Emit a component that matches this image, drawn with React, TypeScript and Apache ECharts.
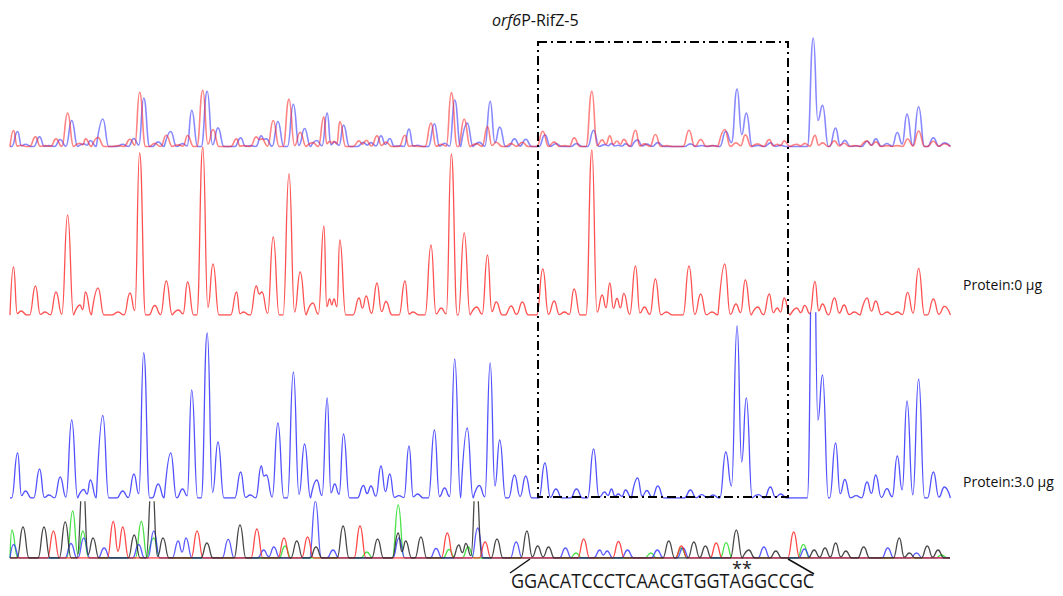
import React, { useEffect, useRef } from "react";
import * as echarts from "echarts";

// [scan position, peak height, optional trough height read between this peak and the next]
type Peak = [number, number, number?];

const TITLE_ITALIC = "orf6";
const TITLE_REST = "P-RifZ-5";
const LABEL_0 = "Protein:0 µg";
const LABEL_3 = "Protein:3.0 µg";
const SEQUENCE = "GGACATCCCTCAACGTGGTAGGCCGC";
const MARK = "**";

// Protein: 0 µg (red trace)
const RED_0UG: Peak[] = [
  [13.5, 48], [21, 4], [35.5, 29], [45, 3], [56, 23], [67.6, 100], [80, 10], [85.5, 23], [98, 27],
  [118, 3], [130, 22], [139.6, 162], [154.8, 9.5], [166.3, 34], [178.5, 5], [187.6, 33], [202.8, 168],
  [213, 51], [236.6, 23], [243.4, 3], [256.3, 29, 21], [262, 23], [273.2, 78], [289, 141], [300.2, 43],
  [312.7, 12], [323.9, 89], [329.6, 16], [334, 16], [339.8, 75], [359, 17], [366.1, 19], [377, 32],
  [386, 13.5], [405, 34], [413, 3], [431, 70], [441.2, 7], [451.3, 161], [464.2, 82], [476.7, 8],
  [487.5, 60], [496.3, 13], [511.1, 9], [522.3, 13], [542.8, 46], [554.2, 14], [564.5, 3], [574.1, 26],
  [591.9, 165], [602.2, 20], [609.8, 32], [617, 16.5], [623.8, 21.6], [635.5, 49], [644.4, 8],
  [655.4, 36], [666.4, 3], [689, 49], [700.7, 21], [712, 3], [724.7, 51], [736, 11], [745.3, 35],
  [757.7, 8], [769.3, 21], [777.2, 7], [784.1, 17], [796.8, 7], [804.7, 9.6], [815, 33.6], [822.5, 11],
  [834.5, 17], [844.1, 10], [854.4, 3], [867.1, 17], [875.7, 14], [887, 3], [897.3, 3], [907.6, 22.6],
  [918.6, 46.7], [933.4, 16], [944.4, 8.6],
];

// Protein: 3.0 µg (blue trace)
const BLUE_3UG: Peak[] = [
  [17.6, 45], [25.4, 7], [39.6, 29], [49, 3], [60.2, 21], [71.7, 78], [83.8, 8.5], [90.3, 18],
  [102.8, 82.5], [122.7, 7], [133.9, 24], [143.7, 145], [158.2, 14], [170.7, 45], [182.6, 9],
  [191.7, 108], [207.2, 165], [218, 56], [240.7, 26], [250.2, 3], [261.3, 32, 22], [266.4, 23], [277.9, 75],
  [293.4, 126], [304.6, 54], [316.8, 18], [327.2, 100], [334.7, 14], [343.5, 64], [363.4, 12.5],
  [370.9, 12], [381, 32], [389.8, 24], [398.9, 2.4], [409, 52], [417.5, 4], [434.4, 68], [444.6, 10],
  [454.7, 139], [467.2, 70], [479.4, 12.5], [490.2, 135, 12], [499.7, 58], [514.5, 23], [525.7, 22],
  [544.9, 35], [555.9, 9], [576.5, 9], [593.6, 49], [604.6, 6], [611.5, 9], [618.3, 4], [625.5, 8],
  [637.6, 20], [646.8, 7.5], [657.8, 12], [690.4, 8], [701.7, 3.4], [713, 3], [725.8, 46, 12], [737.1, 172, 36],
  [746.3, 100], [758.4, 3.4], [770.4, 11], [780.7, 4], [813.3, 324, 78], [822.5, 123], [835.6, 55],
  [844.8, 18.5], [856.2, 2.4], [867.1, 16], [875.7, 23], [887, 9.3], [897.3, 42], [907, 97],
  [918.6, 119], [933.4, 26], [944.4, 11],
];

// Sequencing ladder
const SEQ_G: Peak[] = [
  [23, 31], [44, 31], [65.2, 36], [83, 80], [93, 20], [134.2, 23], [152, 80], [163, 20], [206.9, 15],
  [240, 33], [296.8, 17], [316, 11], [343.1, 32], [377.6, 19], [398.2, 25], [405.7, 17], [420.9, 21],
  [458.8, 13], [465.9, 14.5], [476, 80], [497, 19], [526.9, 27], [537.7, 12], [548.5, 11], [668.8, 17],
  [693.9, 16], [705.4, 12], [736.3, 28], [748.8, 8], [775.8, 7], [814.2, 8], [825, 10], [835.7, 15],
  [845.8, 7], [863.7, 11], [899.3, 20], [909.3, 5], [927.3, 12], [938, 8],
];
const SEQ_T: Peak[] = [
  [53.4, 27], [113.3, 36.5], [122.7, 31], [197.1, 27], [256.9, 29], [284, 20], [307.6, 21], [360, 32],
  [447.3, 25], [485.1, 16], [583.7, 19], [618.5, 16.5], [681.3, 12], [716.2, 15], [793.7, 26],
];
const SEQ_A: Peak[] = [
  [11.8, 28], [72.7, 47], [82.8, 27], [141.3, 36.5], [153.8, 20], [285, 12], [366.8, 6], [398.2, 53],
  [449, 8.5], [468.2, 11], [576, 5], [650.8, 5], [681.3, 10], [726.2, 15.4], [803.4, 13.6], [941.6, 3],
];
const SEQ_C: Peak[] = [
  [13.5, 13.5], [71, 14.5], [83.8, 20], [104.1, 10], [138.6, 13.5], [153.8, 27], [178.2, 17], [186, 20],
  [228.2, 18.6], [263.7, 8], [273.8, 11], [315.4, 57], [333, 8], [398.9, 20], [436.1, 9.5], [477.7, 30],
  [516.2, 16], [565.4, 10], [599.8, 8], [607, 7], [627.5, 8], [657.3, 8], [683, 10], [763.9, 11],
  [804.5, 9], [887.8, 10], [916.5, 5],
];

// Build the line vertices for a trace: baseline -> apex -> baseline for each peak
function toTrace(peaks: Peak[], hw: number, start: number, end: number): number[][] {
  const p = [...peaks].sort((a, b) => a[0] - b[0]);
  const out: number[][] = [];
  let lastX = -Infinity;
  const push = (x: number, y: number) => {
    if (x > lastX) {
      out.push([x, y]);
      lastX = x;
    }
  };
  push(start, 0);
  for (let i = 0; i < p.length; i++) {
    const [x, h, trough] = p[i];
    const prev = i > 0 ? p[i - 1] : null;
    const prevJoined = prev && (prev[2] !== undefined || x - prev[0] < 2 * hw);
    if (!prevJoined) push(x - hw, 0);
    push(x, h);
    const next = i < p.length - 1 ? p[i + 1] : null;
    if (next && trough !== undefined) {
      push((x + next[0]) / 2, trough);
    } else if (!next || next[0] - x >= 2 * hw) {
      push(x + hw, 0);
    } else {
      const gap = next[0] - x;
      push(x + gap / 2, Math.min(h, next[1]) * (1 - gap / (2 * hw)));
    }
  }
  push(end, 0);
  return out;
}

const lineSeries = (data: number[][], idx: number, color: string, width: number) => ({
  type: "line",
  xAxisIndex: idx,
  yAxisIndex: idx,
  data,
  smooth: 0.5,
  smoothMonotone: "x",
  symbol: "none",
  showSymbol: false,
  silent: true,
  clip: true,
  lineStyle: { color, width },
});

export default function App() {
  const ref = useRef<HTMLDivElement>(null);
  useEffect(() => {
    if (!ref.current) return;
    const chart = echarts.init(ref.current, undefined, { renderer: "svg" });
    const red = toTrace(RED_0UG, 6, 10, 950);
    const blue = toTrace(BLUE_3UG, 6, 10, 950);
    const grids = [
      { top: 36, height: 110.6, max: 330 },
      { top: 145, height: 170, max: 170 },
      { top: 313, height: 185, max: 185 },
      { top: 502, height: 56, max: 56 },
    ];
    const option: any = {
      animation: false,
      backgroundColor: "#ffffff",
      grid: grids.map((g) => ({ left: 0, right: 0, top: g.top, height: g.height, containLabel: false })),
      xAxis: grids.map((_, i) => ({ type: "value", gridIndex: i, min: 0, max: 1063, show: false })),
      yAxis: grids.map((g, i) => ({ type: "value", gridIndex: i, min: 0, max: g.max, show: false })),
      series: [
        lineSeries(blue, 0, "rgba(40,40,255,0.55)", 1.6),
        lineSeries(red, 0, "rgba(255,30,30,0.55)", 1.6),
        lineSeries(red, 1, "rgba(255,50,50,0.85)", 1.3),
        lineSeries(blue, 2, "rgba(50,50,255,0.85)", 1.3),
        lineSeries(toTrace(SEQ_A, 6, 10, 950), 3, "rgba(40,220,40,0.85)", 1.3),
        lineSeries(toTrace(SEQ_C, 6, 10, 950), 3, "rgba(50,50,255,0.8)", 1.3),
        lineSeries(toTrace(SEQ_T, 6, 10, 950), 3, "rgba(255,40,40,0.85)", 1.3),
        lineSeries(toTrace(SEQ_G, 6, 10, 950), 3, "rgba(40,40,40,0.85)", 1.3),
      ],
      graphic: [
        {
          type: "rect",
          z: 100,
          shape: { x: 538, y: 42, width: 250, height: 455 },
          style: { fill: "none", stroke: "#000", lineWidth: 2, lineDash: [9, 4, 2, 4] },
        },
        {
          type: "text",
          z: 100,
          x: 492,
          y: 20,
          style: {
            text: "{i|" + TITLE_ITALIC + "}" + TITLE_REST,
            font: "16px 'Open Sans'",
            fill: "#111",
            verticalAlign: "middle",
            rich: { i: { fontStyle: "italic", fontFamily: "Open Sans", fontSize: 16, fill: "#111" } },
          },
        },
        {
          type: "text",
          z: 100,
          x: 963,
          y: 284,
          style: { text: LABEL_0, font: "14px 'Open Sans'", fill: "#111", verticalAlign: "middle" },
        },
        {
          type: "text",
          z: 100,
          x: 963,
          y: 481,
          style: { text: LABEL_3, font: "14px 'Open Sans'", fill: "#111", verticalAlign: "middle" },
        },
        {
          type: "line",
          z: 100,
          shape: { x1: 510, y1: 573, x2: 530, y2: 559 },
          style: { stroke: "#111", lineWidth: 1.5 },
        },
        {
          type: "line",
          z: 100,
          shape: { x1: 788, y1: 559, x2: 814, y2: 574 },
          style: { stroke: "#111", lineWidth: 1.5 },
        },
        {
          type: "text",
          z: 100,
          x: 511,
          y: 581,
          scaleX: 0.9,
          style: { text: SEQUENCE, font: "20px 'Open Sans'", fill: "#1a1a1a", verticalAlign: "middle" },
        },
        {
          type: "text",
          z: 100,
          x: 732,
          y: 568,
          style: { text: MARK, font: "18px 'Open Sans'", fill: "#222", verticalAlign: "middle" },
        },
      ],
    };
    chart.setOption(option);
    return () => chart.dispose();
  }, []);
  return (
    <div
      ref={ref}
      style={{ position: "absolute", left: 0, top: 0, width: 1063, height: 596, background: "#fff" }}
    />
  );
}
